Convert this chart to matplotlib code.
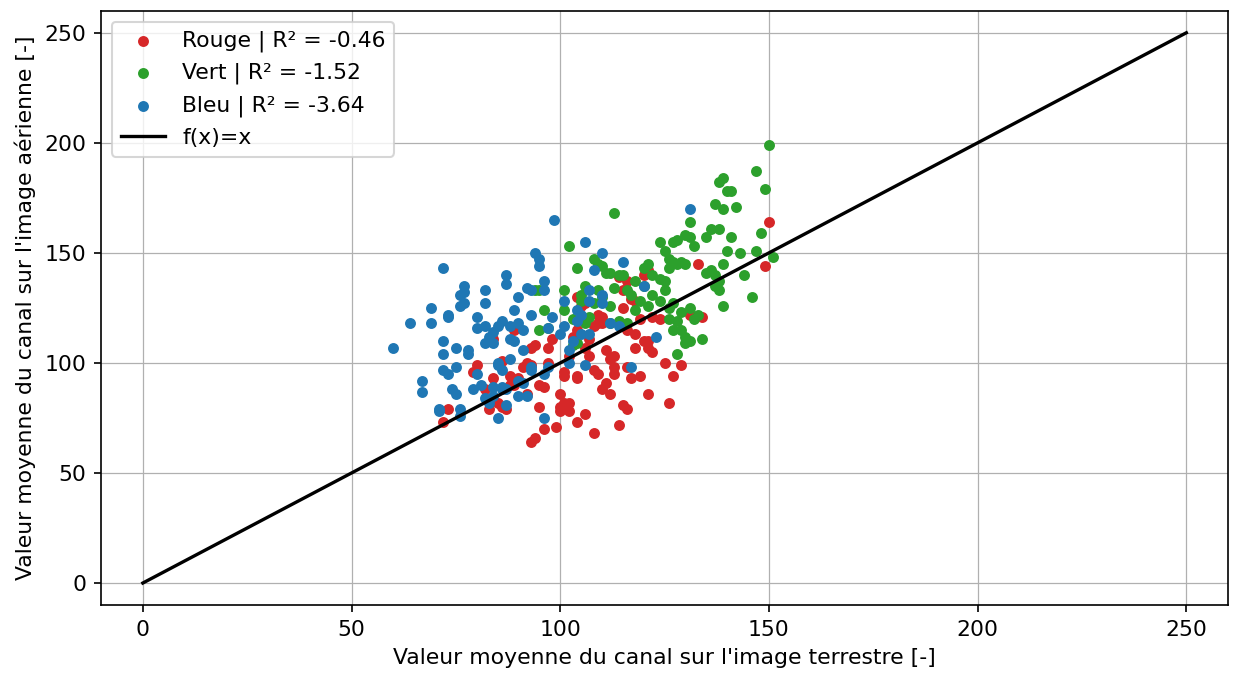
import matplotlib.pyplot as plt
import numpy as np

plt.rcParams['font.size'] = 10.5

# Mean channel values: ground image (x) vs aerial image (y)
rouge_x = [150, 149, 133, 134, 131, 129, 127, 126, 125, 124, 122, 121, 120, 118, 121, 119, 117, 116, 116, 115,
           114, 112, 113, 113, 115, 114, 116, 117, 118, 115, 116, 118, 119, 120, 121, 122, 121, 110, 110, 109,
           108, 107, 106, 106, 107, 108, 109, 110, 111, 112, 113, 104, 105, 104, 103, 102, 101, 101, 101, 100,
           100, 102, 104, 106, 108, 104, 104, 98, 97, 97, 96, 95, 95, 94, 93, 93, 94, 93, 92, 91,
           90, 89, 87, 86, 88, 88, 89, 89, 86, 84, 84, 85, 83, 82, 80, 79, 72, 73, 92, 96,
           99, 100, 102, 109, 111]
rouge_y = [164, 144, 145, 121, 122, 99, 94, 82, 100, 120, 105, 107, 110, 107, 86, 94, 93, 98, 79, 81,
           72, 86, 95, 98, 133, 139, 137, 129, 128, 125, 115, 113, 120, 140, 142, 121, 110, 118, 121, 122,
           117, 111, 127, 107, 103, 97, 95, 88, 91, 102, 103, 130, 126, 115, 112, 103, 96, 94, 82, 78,
           86, 78, 73, 77, 68, 94, 93, 111, 107, 100, 89, 90, 80, 66, 64, 107, 108, 99, 100, 98,
           93, 90, 79, 80, 90, 94, 115, 116, 101, 93, 111, 82, 79, 88, 99, 96, 73, 79, 86, 70,
           71, 80, 82, 118, 106]

vert_x = [150, 149, 147, 148, 147, 151, 139, 138, 140, 141, 142, 139, 137, 138, 136, 135, 132, 131, 131, 130,
          128, 127, 126, 127, 128, 129, 130, 124, 125, 126, 125, 124, 122, 121, 120, 113, 102, 101, 104, 105,
          106, 107, 108, 109, 110, 111, 112, 114, 113, 110, 109, 108, 112, 114, 116, 118, 119, 120, 117, 116,
          118, 121, 122, 124, 125, 126, 127, 128, 129, 129, 130, 131, 132, 133, 135, 136, 137, 137, 138, 138,
          139, 139, 140, 141, 143, 144, 146, 134, 94, 95, 96, 95, 97, 101, 103, 103, 104, 105, 106, 112,
          115, 128, 131, 130, 127, 126]
vert_y = [199, 179, 187, 159, 151, 148, 184, 182, 178, 178, 171, 170, 172, 161, 161, 157, 153, 164, 157, 158,
          156, 155, 147, 146, 145, 146, 145, 155, 151, 143, 137, 138, 140, 145, 143, 168, 153, 133, 143, 131,
          135, 121, 147, 145, 144, 141, 141, 140, 134, 130, 133, 127, 126, 119, 118, 124, 128, 135, 131, 133,
          137, 126, 131, 128, 133, 125, 127, 119, 123, 115, 112, 125, 120, 122, 141, 142, 140, 135, 137, 133,
          126, 145, 151, 157, 150, 140, 130, 111, 133, 133, 124, 115, 116, 124, 120, 108, 109, 128, 118, 118,
          140, 104, 110, 109, 115, 120]

bleu_x = [98.5, 131, 72, 60, 64, 67, 67, 69, 69, 71, 71, 72, 72, 72, 73, 73, 73, 74, 75, 75,
          75, 76, 76, 77, 77, 77, 76, 76, 78, 78, 79, 80, 80, 80, 81, 82, 82, 82, 82, 82,
          83, 83, 84, 84, 84, 84, 85, 85, 85, 85, 86, 86, 86, 86, 87, 87, 87, 87, 88, 88,
          88, 89, 89, 90, 90, 90, 90, 91, 91, 91, 92, 92, 93, 93, 93, 93, 94, 95, 95, 96,
          96, 96, 96, 97, 97, 98, 100, 101, 101, 102, 102, 103, 104, 104, 105, 106, 105, 106, 107, 107,
          107, 108, 110, 110, 110, 112, 114, 115, 117, 120, 123]
bleu_y = [165, 170, 143, 107, 118, 92, 87, 125, 118, 78, 79, 104, 110, 97, 95, 121, 122, 88, 86, 107,
          98, 126, 131, 127, 132, 135, 79, 76, 106, 104, 88, 95, 116, 121, 90, 127, 133, 84, 109, 117,
          112, 82, 85, 89, 109, 114, 75, 99, 117, 100, 97, 119, 89, 88, 88, 81, 136, 140, 102, 111,
          117, 110, 124, 130, 85, 92, 118, 115, 106, 91, 85, 134, 133, 122, 98, 97, 150, 147, 144, 137,
          133, 95, 75, 116, 98, 121, 113, 117, 128, 100, 106, 110, 124, 119, 122, 155, 113, 99, 128, 133,
          113, 142, 150, 127, 131, 118, 117, 146, 98, 135, 112]

r2 = {'Rouge': -0.46, 'Vert': -1.52, 'Bleu': -3.64}

fig, ax = plt.subplots(figsize=(12.33 / 1.5, 6.73 / 1.5), dpi=150)

ax.scatter(rouge_x, rouge_y, s=18, color='tab:red', label=f"Rouge | R² = {r2['Rouge']:.2f}", zorder=3)
ax.scatter(vert_x, vert_y, s=18, color='tab:green', label=f"Vert | R² = {r2['Vert']:.2f}", zorder=3)
ax.scatter(bleu_x, bleu_y, s=18, color='tab:blue', label=f"Bleu | R² = {r2['Bleu']:.2f}", zorder=3)

# Identity line
xx = np.array([0, 250])
ax.plot(xx, xx, color='black', linewidth=1.6, label='f(x)=x', zorder=4)

ax.set_xlim(-10, 260)
ax.set_ylim(-10, 260)
ax.grid(True, color='#b0b0b0', linewidth=0.6)
ax.set_axisbelow(True)
ax.set_xlabel("Valeur moyenne du canal sur l'image terrestre [-]")
ax.set_ylabel("Valeur moyenne du canal sur l'image aérienne [-]")
ax.legend(loc='upper left')

plt.subplots_adjust(left=0.082, right=0.996, top=0.984, bottom=0.101)
plt.savefig('out.png', dpi=150)
plt.close()
